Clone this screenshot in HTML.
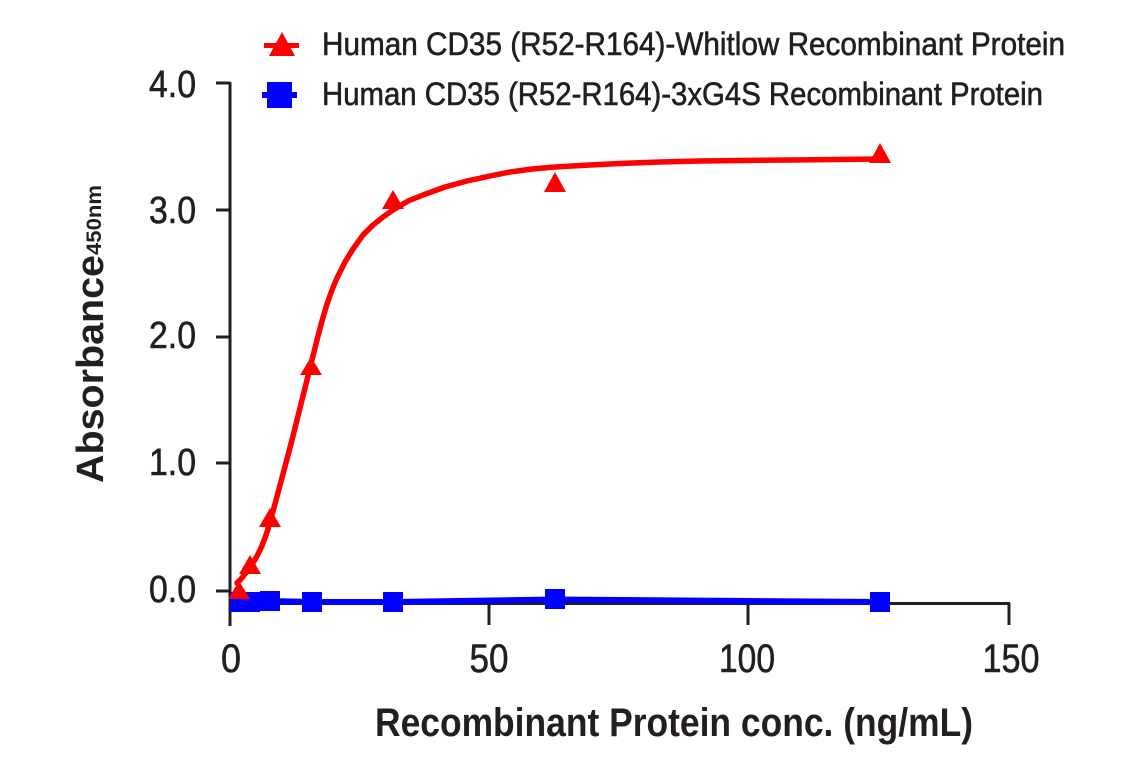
<!DOCTYPE html>
<html>
<head>
<meta charset="utf-8">
<style>
  html, body { margin: 0; padding: 0; background: #ffffff; }
  svg { display: block; }
  text { font-family: "Liberation Sans Narrow", "Liberation Sans", "DejaVu Sans", sans-serif; fill: #231f20; }
  .heavy { stroke: #231f20; stroke-width: 0.6; }
</style>
</head>
<body>
<svg width="1141" height="768" viewBox="0 0 1141 768" xmlns="http://www.w3.org/2000/svg">
  <rect x="0" y="0" width="1141" height="768" fill="#ffffff"/>

  <!-- Legend -->
  <line x1="264" y1="45.5" x2="299" y2="45.5" stroke="#ff0000" stroke-width="5"/>
  <polygon points="282,32 269,56 295,56" fill="#ff0000"/>
  <text class="heavy" x="322" y="55" font-size="32" textLength="743" lengthAdjust="spacingAndGlyphs">Human CD35 (R52-R164)-Whitlow Recombinant Protein</text>

  <line x1="262" y1="95" x2="297" y2="95" stroke="#0000ff" stroke-width="6"/>
  <rect x="267" y="82" width="25" height="26" fill="#0000ff"/>
  <text class="heavy" x="322" y="105" font-size="32" textLength="721" lengthAdjust="spacingAndGlyphs">Human CD35 (R52-R164)-3xG4S Recombinant Protein</text>

  <!-- Axes -->
  <g stroke="#231f20" stroke-width="3" fill="none">
    <line x1="230" y1="82" x2="230" y2="626"/>
    <line x1="229" y1="603.5" x2="1010" y2="603.5"/>
    <line x1="216" y1="83" x2="230" y2="83"/>
    <line x1="216" y1="210" x2="230" y2="210"/>
    <line x1="216" y1="337" x2="230" y2="337"/>
    <line x1="216" y1="463" x2="230" y2="463"/>
    <line x1="216" y1="591" x2="230" y2="591"/>
    <line x1="489" y1="603" x2="489" y2="625"/>
    <line x1="748" y1="603" x2="748" y2="625"/>
    <line x1="1009" y1="603" x2="1009" y2="625"/>
  </g>

  <!-- Y tick labels -->
  <g font-size="38" text-anchor="end" class="heavy">
    <text class="heavy" x="196" y="97" textLength="47" lengthAdjust="spacingAndGlyphs">4.0</text>
    <text class="heavy" x="196" y="223" textLength="47" lengthAdjust="spacingAndGlyphs">3.0</text>
    <text class="heavy" x="196" y="348" textLength="47" lengthAdjust="spacingAndGlyphs">2.0</text>
    <text class="heavy" x="196" y="475" textLength="47" lengthAdjust="spacingAndGlyphs">1.0</text>
    <text class="heavy" x="196" y="602" textLength="47" lengthAdjust="spacingAndGlyphs">0.0</text>
  </g>

  <!-- X tick labels -->
  <g font-size="40" text-anchor="middle">
    <text class="heavy" x="231" y="672" textLength="20" lengthAdjust="spacingAndGlyphs">0</text>
    <text class="heavy" x="489" y="672" textLength="39" lengthAdjust="spacingAndGlyphs">50</text>
    <text class="heavy" x="747" y="672" textLength="56" lengthAdjust="spacingAndGlyphs">100</text>
    <text class="heavy" x="1011" y="672" textLength="57" lengthAdjust="spacingAndGlyphs">150</text>
  </g>

  <!-- Axis titles -->
  <text x="375" y="736" font-size="40" font-weight="bold" textLength="598" lengthAdjust="spacingAndGlyphs">Recombinant Protein conc. (ng/mL)</text>

  <text transform="translate(103,483) rotate(-90)" x="0" y="0" font-size="38" font-weight="bold" textLength="228" lengthAdjust="spacingAndGlyphs">Absorbance</text>
  <text transform="translate(101,255) rotate(-90)" x="0" y="0" font-size="21" font-weight="bold" textLength="70" lengthAdjust="spacingAndGlyphs">450nm</text>

  <!-- Blue series -->
  <polyline points="232,604 240,602 250,602 270,601 312,602 393,602 555,599.5 880,602"
            fill="none" stroke="#0000ff" stroke-width="6" stroke-linejoin="round"/>
  <g fill="#0000ff">
    <rect x="230" y="592" width="20" height="20"/>
    <rect x="240" y="592" width="20" height="20"/>
    <rect x="260" y="591" width="20" height="20"/>
    <rect x="302" y="592" width="20" height="20"/>
    <rect x="383" y="592" width="20" height="20"/>
    <rect x="545" y="589" width="20" height="20"/>
    <rect x="870" y="592" width="20" height="20"/>
  </g>

  <!-- Red series curve -->
  <polyline points="237,583 241,579 245,574 249,569 253,563 257,556 261,548 265,538 268,529 271,518 275,504 279,489 283,474 287,459 292,440 297,420 302,400 307,380 312,360 317,340 322,321 327,304 332,290 337,278 345,262 353,249 363,235 373,225 383,217 393,210 408,201 423,195 445,187 467,181 490,176 510,172 532,169 555,167 590,165 620,163.5 660,162 700,161 790,160 880,159"
            fill="none" stroke="#ff0000" stroke-width="5.5" stroke-linejoin="round" stroke-linecap="round"/>
  <g fill="#ff0000">
    <polygon points="880,143 869,163 891,163"/>
    <polygon points="555,172 544,192 566,192"/>
    <polygon points="393,190 382,209 404,209"/>
    <polygon points="311,357 300,375 322,375"/>
    <polygon points="270,508 259,527 281,527"/>
    <polygon points="250,555 239,574 261,574"/>
    <polygon points="239,581 228,599 250,599"/>
  </g>
</svg>
</body>
</html>
